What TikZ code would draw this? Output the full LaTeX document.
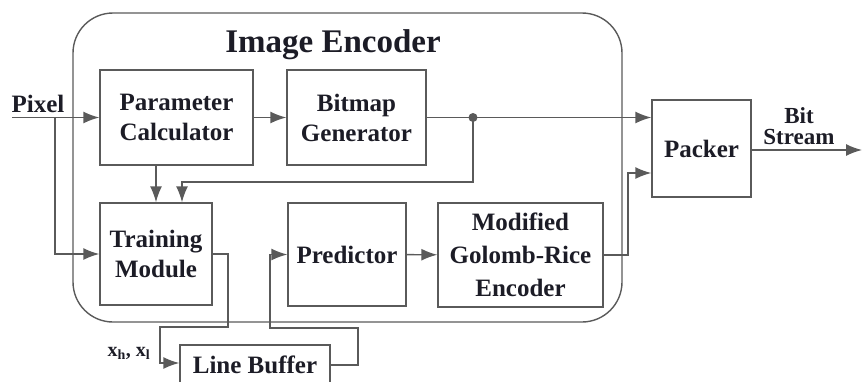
\documentclass[tikz,border=0pt]{standalone}
\usepackage{fontspec}
\setmainfont{Liberation Serif}
\usetikzlibrary{arrows.meta, positioning, calc}
\definecolor{linegray}{RGB}{90, 90, 90}
\definecolor{inkdark}{RGB}{28, 28, 38}
\tikzset{
  >=Latex,
  flowarrow/.style={-{Latex[length=16pt, width=12pt]}, line width=1.4pt, linegray},
  flowline/.style={line width=1.4pt, linegray},
  blockbox/.style={draw=linegray, line width=1.4pt, align=center, text=inkdark, inner sep=0pt,
    font=\fontsize{25}{30}\selectfont\bfseries},
  plainlabel/.style={text=inkdark, inner sep=0pt, align=center, font=\fontsize{25}{20}\selectfont\bfseries}
}

\begin{document}
\begin{tikzpicture}[x=1pt, y=-1pt]
    \useasboundingbox (0,0) rectangle (862,381);
    % encoder frame
    \draw[flowline, rounded corners=40pt] (73,13) rectangle (622,322);
    \node (title) [text=inkdark, inner sep=0pt, anchor=base, font=\fontsize{33}{36}\selectfont\bfseries] at (333,52) {Image Encoder};

    \node (param) [blockbox, minimum width=153pt, minimum height=95pt] at (176.5,117.5) {Parameter\\Calculator};
    \node (bitmap) [blockbox, minimum width=139pt, minimum height=95pt] at (356.5,117.5) {Bitmap\\Generator};
    \node (train) [blockbox, minimum width=112pt, minimum height=102pt] at (156,254) {Training\\Module};
    \node (pred) [blockbox, minimum width=118pt, minimum height=103pt] at (347,254.5) {Predictor};
    \node (golomb) [blockbox, minimum width=165pt, minimum height=104pt, font=\fontsize{25}{33}\selectfont\bfseries] at (520.5,255) {Modified\\Golomb-Rice\\Encoder};
    \node (packer) [blockbox, minimum width=99pt, minimum height=97pt] at (701.5,148.5) {Packer};
    \node (lbuf) [blockbox, minimum width=150pt, minimum height=40pt] at (255,365) {Line Buffer};

    \node (pixel) [plainlabel] at (38,104) {Pixel};
    \node (bits) [plainlabel, font=\fontsize{23}{21}\selectfont\bfseries] at (799,126) {Bit\\Stream};
    \node (xhl) [plainlabel, font=\fontsize{20}{22}\selectfont\bfseries] at (129,353) {x\textsubscript{h}, x\textsubscript{l}};

    \coordinate (pixin) at (12,117.5);
    \coordinate (pixbr) at (55,117.5);
    \coordinate (tap) at (473,117.5);
    \coordinate (fbk) at (182,182);
    \coordinate (trout) at (228,327);
    \coordinate (lbin) at (160,363);
    \coordinate (lbout) at (358,328);
    \coordinate (prin) at (270,254.5);
    \coordinate (grout) at (628,173);
    \coordinate (bitsout) at (862,150);

    \draw[flowarrow] (pixin) -- (param);
    \draw[flowarrow] (pixbr) |- (train.west);
    \draw[flowarrow] (param) -- (bitmap);
    \draw[flowline] (bitmap.east) -- (tap);
    \fill[linegray] (tap) circle (4.5pt);
    \draw[flowarrow] (tap) -- (packer.west |- tap);
    \draw[flowarrow] (tap) |- (fbk) -- (fbk |- train.north);
    \draw[flowarrow] (param.south -| train.north) -- (train.north);
    \draw[flowarrow] (train.east) -| (trout) -| (lbin) -- (lbuf.west |- lbin);
    \draw[flowarrow] (lbuf.east) -| (lbout) -| (prin) -- (pred.west);
    \draw[flowarrow] (pred) -- (golomb);
    \draw[flowarrow] (golomb.east) -| (grout) -- (packer.west |- grout);
    \draw[flowarrow] (packer.east |- bitsout) -- (bitsout);
\end{tikzpicture}
\end{document}
